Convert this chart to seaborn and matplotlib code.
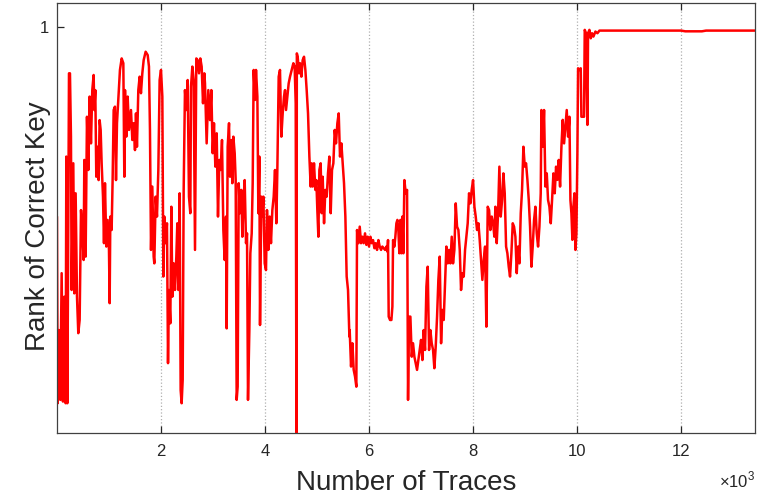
import numpy as np
import pandas as pd
import matplotlib
matplotlib.use('Agg')
import matplotlib.pyplot as plt
import seaborn as sns

# rank do key correto vs numero de traces
traces_a = [0, 13, 38, 64, 90, 115, 141, 167, 180, 199,
            218, 231, 250, 269, 282, 314, 333, 359, 385, 410,
            436, 462, 487, 513, 526, 551, 577, 603, 628, 654,
            679, 705, 718, 737, 756, 782, 801, 820, 840, 859,
            885, 904, 923, 949, 974, 1000, 1013, 1026, 1051, 1070,
            1090, 1115, 1135, 1154, 1179, 1211, 1244, 1276, 1295, 1308,
            1333, 1359, 1385, 1423, 1449, 1474, 1500, 1519, 1538, 1564,
            1590, 1615, 1641, 1667, 1705, 1744, 1769, 1788, 1808, 1833,
            1859, 1872, 1897, 1923, 1949, 1974, 2000, 2026, 2045, 2064,
            2090, 2115, 2135, 2154, 2179, 2199, 2218, 2244, 2269, 2295,
            2314, 2333, 2359, 2378, 2397, 2417, 2436, 2461, 2487, 2513,
            2538, 2564, 2577, 2603, 2628, 2654, 2679, 2705, 2731, 2756,
            2782, 2808, 2833]
rank_a = [8.90, 16.68, 13.63, 16.54, 11.26, 16.61, 12.24, 16.68, 6.40, 16.68,
          9.18, 2.93, 2.93, 5.57, 11.96, 6.68, 12.10, 7.93, 12.24, 13.76,
          13.21, 8.63, 9.46, 10.71, 6.54, 10.57, 4.74, 6.96, 3.90, 5.85,
          3.63, 3.00, 4.46, 3.63, 7.24, 5.99, 7.38, 4.88, 5.29, 6.68,
          8.07, 10.01, 7.51, 10.15, 9.04, 10.29, 12.51, 8.90, 9.46, 7.38,
          4.46, 4.32, 7.38, 5.01, 4.04, 2.79, 2.31, 2.51, 7.24, 3.63,
          5.57, 3.90, 5.29, 4.46, 5.71, 5.01, 6.13, 4.60, 5.99, 3.63,
          3.07, 3.76, 2.93, 2.38, 2.03, 2.17, 2.65, 5.29, 10.29, 7.65,
          10.57, 10.85, 8.07, 8.90, 6.96, 3.21, 2.79, 3.90, 11.40, 8.90,
          10.01, 9.18, 15.01, 11.96, 13.35, 8.49, 12.24, 10.85, 11.96, 10.57,
          9.18, 11.96, 7.93, 16.13, 16.68, 15.71, 7.79, 3.63, 4.46, 3.21,
          8.07, 8.76, 3.49, 2.65, 3.21, 10.29, 2.31, 2.38, 2.93, 2.31,
          2.65, 4.18, 2.93]

traces_b = [2846, 2878, 2910, 2942, 2968, 2994, 3019, 3045, 3071, 3096,
            3122, 3147, 3173, 3199, 3224, 3250, 3263, 3282, 3308, 3327,
            3353, 3372, 3391, 3417, 3436, 3455, 3474, 3494, 3519, 3545,
            3564, 3590, 3609, 3635, 3654, 3673, 3699, 3718, 3744, 3763,
            3782, 3808, 3827, 3853, 3872, 3891, 3904, 3929, 3949, 3968,
            3994, 4019, 4038, 4064, 4090, 4115, 4141, 4167, 4192, 4218,
            4237, 4263, 4288, 4314, 4340, 4365, 4385, 4404, 4429, 4455,
            4481, 4513, 4545, 4570, 4590, 4605, 4612, 4628, 4654, 4673,
            4699, 4724, 4750, 4776, 4801, 4827, 4853, 4878, 4897, 4917,
            4942, 4968, 4987, 5006, 5026, 5045, 5070, 5090, 5109, 5135,
            5160, 5186, 5211, 5237, 5263, 5288, 5314, 5340, 5365, 5391,
            5417, 5442, 5468, 5494, 5519, 5545, 5570, 5596, 5622]
rank_b = [3.35, 5.85, 3.63, 4.88, 3.63, 6.26, 5.01, 6.82, 5.43, 8.90,
          6.54, 6.96, 5.71, 9.46, 10.71, 8.90, 13.56, 5.99, 5.01, 7.24,
          5.71, 7.51, 5.57, 6.26, 7.38, 16.54, 15.99, 7.51, 8.76, 7.79,
          9.74, 8.07, 7.38, 10.01, 9.60, 16.54, 13.63, 10.43, 9.60, 7.51,
          2.79, 4.04, 2.79, 3.90, 8.76, 6.40, 13.42, 8.07, 8.90, 8.07,
          10.85, 11.13, 8.63, 10.29, 8.90, 10.01, 8.63, 8.07, 6.96, 9.18,
          6.96, 3.07, 2.79, 5.57, 4.60, 3.90, 3.63, 4.46, 3.90, 3.35,
          3.07, 2.79, 2.51, 2.65, 4.18, 18.50, 2.10, 2.24, 2.93, 2.51,
          3.07, 2.38, 2.24, 2.79, 3.63, 4.60, 6.40, 7.65, 6.68, 7.65,
          6.68, 7.79, 7.38, 8.63, 9.74, 6.96, 6.68, 8.76, 7.24, 9.18,
          7.79, 8.07, 7.10, 6.40, 8.76, 6.96, 6.68, 5.29, 5.85, 5.01,
          4.60, 6.40, 5.85, 6.68, 7.51, 8.90, 11.40, 11.96, 13.90]

traces_c = [5628, 5654, 5680, 5705, 5731, 5756, 5769, 5795, 5821, 5846,
            5872, 5897, 5923, 5949, 5974, 6000, 6026, 6051, 6077, 6103,
            6128, 6154, 6180, 6205, 6231, 6256, 6282, 6308, 6333, 6353,
            6365, 6378, 6404, 6430, 6449, 6462, 6487, 6506, 6526, 6545,
            6564, 6583, 6603, 6622, 6641, 6660, 6680, 6705, 6731, 6750,
            6769, 6795, 6821, 6846, 6872, 6897, 6923, 6949, 6974, 7000,
            7026, 7051, 7077, 7103, 7128, 7154, 7179, 7205, 7231, 7256,
            7282, 7308, 7333, 7359, 7385, 7410, 7436, 7462, 7487, 7513,
            7538, 7564, 7590, 7615, 7641, 7667, 7692, 7718, 7744, 7769,
            7795, 7821, 7846, 7872, 7897, 7923, 7949, 7974, 8000, 8026,
            8051, 8077, 8103, 8128, 8154, 8179, 8205, 8231, 8256, 8282,
            8308, 8333, 8359, 8385, 8410]
rank_c = [13.63, 15.15, 14.18, 15.29, 15.57, 15.99, 9.46, 10.01, 9.32, 10.01,
          9.74, 10.01, 9.60, 10.08, 9.74, 10.15, 9.74, 10.01, 9.88, 10.22,
          10.01, 10.29, 9.88, 10.15, 10.29, 10.15, 10.22, 10.29, 10.15, 10.36,
          9.88, 13.07, 13.21, 13.21, 12.65, 9.88, 10.15, 9.74, 9.18, 9.04,
          9.46, 10.43, 9.04, 10.43, 8.90, 10.43, 7.38, 7.93, 7.79, 16.54,
          13.07, 13.07, 14.74, 14.18, 14.74, 15.01, 15.29, 14.88, 14.46, 14.04,
          14.88, 13.63, 14.46, 11.82, 10.99, 14.46, 13.63, 14.18, 14.46, 15.22,
          14.32, 13.07, 11.54, 10.57, 14.18, 12.79, 13.21, 11.68, 10.15, 10.85,
          10.29, 10.85, 9.74, 10.85, 10.29, 8.35, 9.32, 9.46, 10.29, 11.96,
          11.26, 11.40, 10.29, 9.74, 9.18, 7.93, 8.35, 7.79, 7.38, 8.49,
          8.90, 9.46, 9.18, 9.88, 10.71, 11.54, 10.71, 10.15, 13.49, 8.49,
          8.63, 9.46, 8.90, 9.18, 9.74]

traces_d = [8430, 8455, 8481, 8506, 8532, 8558, 8583, 8609, 8635, 8660,
            8686, 8711, 8737, 8763, 8788, 8814, 8840, 8865, 8891, 8917,
            8942, 8968, 8994, 9019, 9045, 9071, 9096, 9122, 9147, 9173,
            9199, 9224, 9250, 9276, 9301, 9314, 9340, 9365, 9391, 9417,
            9442, 9468, 9494, 9519, 9545, 9570, 9596, 9622, 9647, 9673,
            9699, 9724, 9750, 9776, 9801, 9827, 9853, 9872, 9891, 9910,
            9930, 9949, 9968, 9987, 10006, 10019, 10045, 10070, 10083, 10109,
            10134, 10147, 10173, 10186, 10199, 10211, 10237, 10263, 10288, 10314,
            10353, 10391, 10430, 12000, 12080, 12400, 12480, 13420]
rank_d = [8.49, 10.01, 8.76, 6.82, 8.90, 8.21, 7.10, 7.93, 10.15, 10.43,
          10.99, 11.40, 10.43, 9.18, 9.32, 9.74, 11.26, 10.15, 10.85, 8.76,
          7.79, 5.99, 6.82, 6.68, 7.37, 8.21, 9.32, 10.99, 10.15, 9.04,
          8.49, 9.60, 10.15, 9.32, 7.93, 4.46, 5.99, 4.46, 7.65, 7.10,
          8.21, 8.49, 9.18, 8.21, 7.10, 7.93, 6.82, 7.37, 6.54, 7.65,
          5.99, 4.87, 5.85, 5.15, 4.46, 5.57, 4.74, 8.21, 8.76, 9.87,
          8.49, 7.93, 10.29, 9.60, 6.26, 2.72, 2.79, 2.72, 4.74, 4.74,
          4.74, 1.12, 1.26, 3.49, 5.08, 1.26, 1.12, 1.47, 1.26, 1.40,
          1.19, 1.26, 1.15, 1.15, 1.18, 1.18, 1.15, 1.15]

xtick_vals = [2000, 4000, 6000, 8000, 10000, 12000]
xtick_labels = ['2', '4', '6', '8', '10', '12']

df = pd.DataFrame({'Traces': traces_a + traces_b + traces_c + traces_d,
                   'Rank': rank_a + rank_b + rank_c + rank_d})

sns.set_style('white')
plt.rcParams['font.family'] = ['Liberation Sans', 'DejaVu Sans']
plt.rcParams['mathtext.fontset'] = 'custom'
plt.rcParams['mathtext.rm'] = 'Liberation Sans'

fig = plt.figure(figsize=(7.74, 5), dpi=100)
ax = fig.add_axes([0.0736, 0.134, 0.9018, 0.86])

# linhas de grade verticais pontilhadas
for xv in xtick_vals:
    ax.axvline(xv, color='#b0b0b0', linestyle=':', linewidth=0.9, zorder=0)

sns.lineplot(data=df, x='Traces', y='Rank', color='#ff0000', linewidth=1.8,
             estimator=None, sort=False, ax=ax)

ax.set_xlim(0, 13420)
ax.set_ylim(17.92, 0)
ax.set_xticks(xtick_vals)
ax.set_xticklabels(xtick_labels)
ax.set_yticks([1])
ax.set_yticklabels(['1'])
ax.tick_params(axis='both', direction='in', length=5,
               width=0.9, color='#262626', labelcolor='#262626', labelsize=12)
ax.tick_params(axis='x', bottom=True, top=True, pad=8)
ax.tick_params(axis='y', left=True, right=False, pad=6)
for sp in ax.spines.values():
    sp.set_color('#404040')
    sp.set_linewidth(0.9)

ax.set_xlabel('Number of Traces', fontsize=20, color='#262626', labelpad=8)
ax.set_ylabel('Rank of Correct Key', fontsize=20, color='#262626')
ax.yaxis.set_label_coords(-0.008, 0.48)
ax.text(1.0, -0.11, r'$\times10^{3}$', transform=ax.transAxes, ha='right', va='center',
        fontsize=12, color='#262626')

fig.savefig('out.png', dpi=100)
